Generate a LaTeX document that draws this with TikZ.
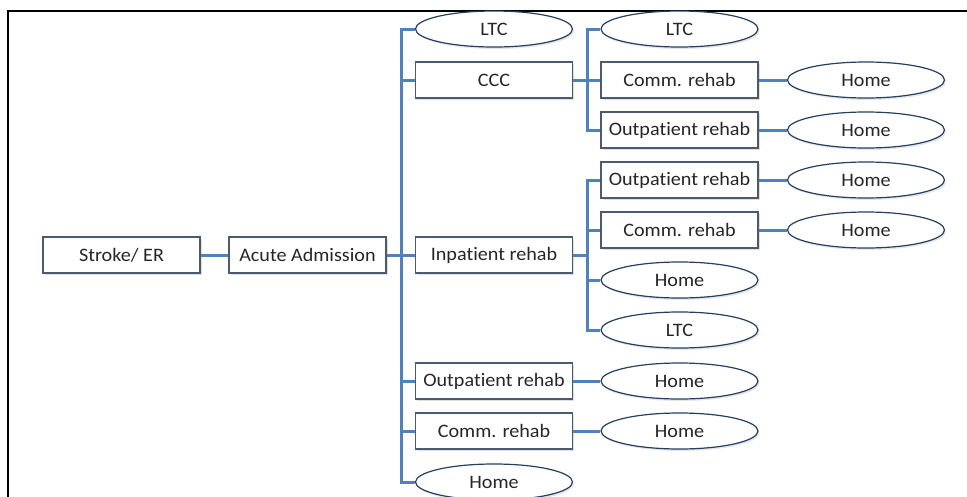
\documentclass[tikz,border=0pt]{standalone}
\usepackage{fontspec}
\setmainfont[FakeStretch=1.06, Ligatures=NoCommon]{Carlito}
\usetikzlibrary{shapes.geometric,shadows}
\pgfdeclarelayer{bg}
\pgfsetlayers{bg,main}
\definecolor{linkblue}{HTML}{4F81BD}
\definecolor{boxline}{HTML}{4A5A70}
\definecolor{ovalline}{HTML}{243F60}
\tikzset{
  x=1pt,y=-1pt,
  every node/.style={font=\fontsize{19}{22}\selectfont, text=black!85},
  boxnode/.style={draw=boxline, line width=1.8pt, fill=white, rectangle,
    minimum width=157pt, minimum height=36pt, inner sep=0pt,
    drop shadow={opacity=0.25, shadow xshift=1.5pt, shadow yshift=-2pt}},
  ovalnode/.style={draw=ovalline, line width=1.2pt, fill=white, ellipse,
    minimum width=157pt, minimum height=36pt, inner sep=0pt,
    drop shadow={opacity=0.2, shadow xshift=1.5pt, shadow yshift=-2pt}},
  link/.style={draw=linkblue, line width=3pt},
}
\begin{document}
\begin{tikzpicture}
\useasboundingbox (0,0) rectangle (967,496);
% frame
\draw[black, line width=1.8pt] (8,520) -- (8,11) -- (990,11);

% nodes
\node[boxnode] (stroke) at (121.5,255) {Stroke/ ER};
\node[boxnode] (acute) at (307.5,255) {Acute Admission};

\node[ovalnode] (ltcA) at (494,29) {LTC};
\node[boxnode] (ccc) at (494,80) {CCC};
\node[boxnode] (inpat) at (494,255) {Inpatient rehab};
\node[boxnode] (outA) at (494,381) {Outpatient rehab};
\node[boxnode] (commA) at (494,431) {Comm. rehab};
\node[ovalnode] (homeA) at (494,482) {Home};

\node[ovalnode] (ltcB) at (679.5,29) {LTC};
\node[boxnode] (commB) at (679.5,80) {Comm. rehab};
\node[boxnode] (outB) at (679.5,130) {Outpatient rehab};
\node[boxnode] (outC) at (679.5,180) {Outpatient rehab};
\node[boxnode] (commC) at (679.5,230) {Comm. rehab};
\node[ovalnode] (homeC) at (679.5,280) {Home};
\node[ovalnode] (ltcC) at (679.5,330) {LTC};
\node[ovalnode] (homeD) at (679.5,381) {Home};
\node[ovalnode] (homeE) at (679.5,431) {Home};

\node[ovalnode] (homeF) at (866,80) {Home};
\node[ovalnode] (homeG) at (866,130) {Home};
\node[ovalnode] (homeH) at (866,180) {Home};
\node[ovalnode] (homeI) at (866,230) {Home};

% bus points
\coordinate (trunk) at (401,255);
\coordinate (busA) at (587,80);
\coordinate (busB) at (587,255);

% connectors (behind the nodes)
\begin{pgfonlayer}{bg}
\draw[link] (stroke.east) -- (acute.west);
\draw[link] (acute.east) -- (trunk);
\foreach \n in {ltcA,ccc,inpat,outA,commA,homeA}
  \draw[link] (trunk) |- (\n.west);
\draw[link] (ccc.east) -- (busA);
\foreach \n in {ltcB,commB,outB}
  \draw[link] (busA) |- (\n.west);
\draw[link] (inpat.east) -- (busB);
\foreach \n in {outC,commC,homeC,ltcC}
  \draw[link] (busB) |- (\n.west);
\draw[link] (commB.east) -- (homeF.west);
\draw[link] (outB.east) -- (homeG.west);
\draw[link] (outC.east) -- (homeH.west);
\draw[link] (commC.east) -- (homeI.west);
\draw[link] (outA.east) -- (homeD.west);
\draw[link] (commA.east) -- (homeE.west);
\end{pgfonlayer}
\end{tikzpicture}
\end{document}
